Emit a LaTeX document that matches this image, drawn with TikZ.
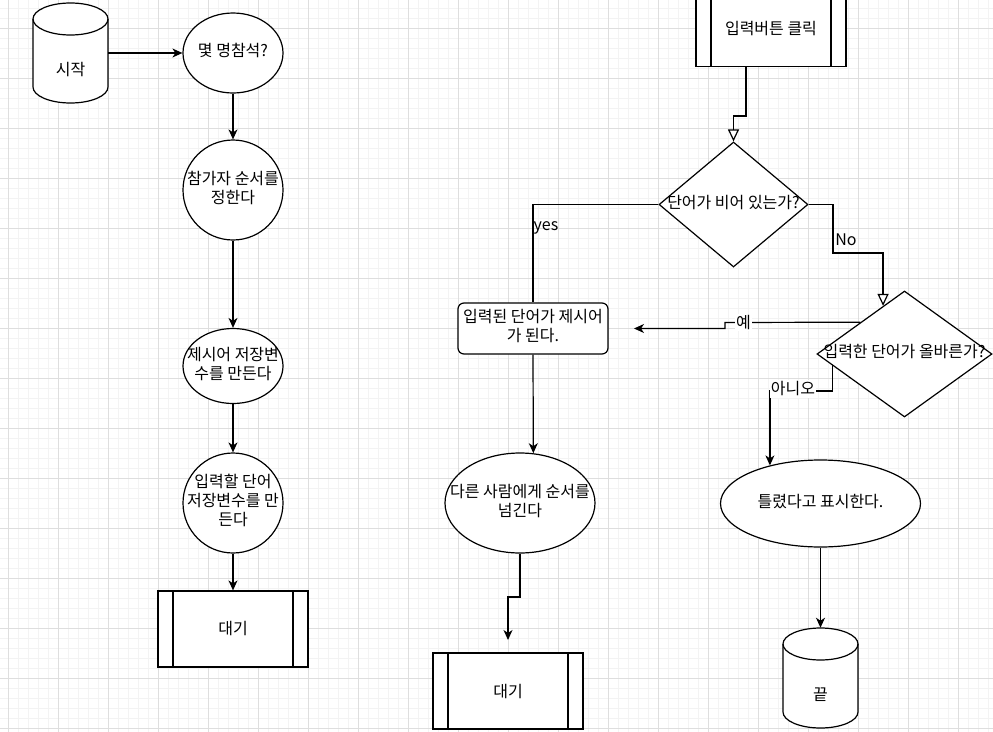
\documentclass[tikz,border=0pt]{standalone}
\usepackage{fontspec}
\setmainfont{Noto Sans CJK KR}
\usetikzlibrary{arrows.meta,shapes.geometric}
\newdimen\pxu \pxu=0.75pt
\newcommand\zt[1]{\makebox[0pt]{\begin{tabular}{@{}c@{}}#1\end{tabular}}}
\definecolor{gmin}{HTML}{F3F3F3}
\definecolor{gmaj}{HTML}{DEDEDE}
\begin{document}
\begin{tikzpicture}[x=0.75pt,y=-0.75pt,
  txt/.style={font=\fontsize{12}{14.2}\selectfont, inner sep=0pt},
  shp/.style={txt, draw, line width=0.9pt, fill=white},
  ell/.style={shp, ellipse},
  dia/.style={shp, diamond},
  proc/.style={shp, rectangle, minimum width=150\pxu, minimum height=76\pxu,
    path picture={\draw[line width=0.9pt]
      ([xshift=15\pxu]path picture bounding box.north west) -- ([xshift=15\pxu]path picture bounding box.south west)
      ([xshift=-15\pxu]path picture bounding box.north east) -- ([xshift=-15\pxu]path picture bounding box.south east);}},
  cyl/.style={txt, minimum width=75\pxu, minimum height=100\pxu, text height=46\pxu, text depth=2\pxu},
  cylbody/.style={fill=white, draw, line width=0.9pt},
  lbl/.style={txt, inner sep=1pt},
  arr/.style={line width=0.9pt, -{Stealth[length=7.5pt, width=6.75pt, inset=2.25pt]}},
  oarr/.style={line width=0.9pt, -{Triangle[fill=white, length=9pt, width=8.25pt]}},
  conn/.style={line width=0.9pt}
]
\useasboundingbox (0,0) rectangle (993,732);
\fill[white] (0,0) rectangle (993,732);
% grid
\foreach \x in {8,18,...,988} \draw[gmin, line width=0.6pt] (\x,0) -- (\x,732);
\foreach \y in {8,18,...,728} \draw[gmin, line width=0.6pt] (0,\y) -- (993,\y);
\foreach \x in {8,58,...,958} \draw[gmaj, line width=0.6pt] (\x,0) -- (\x,732);
\foreach \y in {28,78,...,728} \draw[gmaj, line width=0.6pt] (0,\y) -- (993,\y);

% cylinders
\filldraw[cylbody] (33,19) -- (33,87) arc[start angle=180,end angle=360,x radius=28.125pt,y radius=12pt]
  -- (108,19) arc[start angle=0,end angle=180,x radius=28.125pt,y radius=12pt] -- cycle;
\draw[line width=0.9pt] (33,19) arc[start angle=180,end angle=360,x radius=28.125pt,y radius=12pt];
\filldraw[cylbody] (783,644) -- (783,712) arc[start angle=180,end angle=360,x radius=28.125pt,y radius=12pt]
  -- (858,644) arc[start angle=0,end angle=180,x radius=28.125pt,y radius=12pt] -- cycle;
\draw[line width=0.9pt] (783,644) arc[start angle=180,end angle=360,x radius=28.125pt,y radius=12pt];

% nodes
\node[cyl] (start) at (70.5,53) {시작};
\node[ell, minimum width=100\pxu, minimum height=80\pxu] (q1) at (233,53) {\zt{몇 명참석?}};
\node[ell, minimum width=100\pxu, minimum height=100\pxu] (c1) at (233,190) {\zt{참가자 순서를\\정한다}};
\node[ell, minimum width=100\pxu, minimum height=75\pxu] (c2) at (233,366) {\zt{제시어 저장변\\수를 만든다}};
\node[ell, minimum width=100\pxu, minimum height=100\pxu] (c3) at (233,503) {\zt{입력할 단어\\저장변수를 만\\든다}};
\node[proc] (w1) at (233,629) {대기};
\node[proc] (btn) at (771,28.5) {입력버튼 클릭};
\node[dia, minimum width=149\pxu, minimum height=125\pxu] (d1) at (733.5,204.5) {\zt{단어가 비어 있는가?}};
\node[shp, rounded corners=6\pxu, minimum width=150\pxu, minimum height=51\pxu] (rr) at (533,328.5) {\zt{입력된 단어가 제시어\\가 된다.}};
\node[dia, minimum width=175\pxu, minimum height=126\pxu] (d2) at (904.5,354) {\zt{입력한 단어가 올바른가?}};
\node[ell, minimum width=150\pxu, minimum height=100\pxu] (e1) at (520,503) {\zt{다른 사람에게 순서를\\넘긴다}};
\node[ell, minimum width=200\pxu, minimum height=87\pxu] (e2) at (820.5,503.5) {\zt{틀렸다고 표시한다.}};
\node[proc] (w2) at (508,691) {대기};
\node[cyl] (endc) at (820.5,678) {끝};

\coordinate (yesend) at (634,328.5);
\coordinate (w2end) at (508,640);

% connectors
\draw[arr] (start) -- (q1);
\draw[arr] (q1) -- (c1);
\draw[arr] (c1) -- (c2);
\draw[arr] (c2) -- (c3);
\draw[arr] (c3) -- (w1);
\draw[oarr] ([xshift=-25\pxu]btn.south) |- (740,116) -| (d1.north);
\draw[conn] (d1.west) -| (rr.north);
\draw[oarr] (d1.east) -| (833,253) -| (d2.114);
\draw[arr] (d2.north west) -- (725,322.5) |- (yesend);
\draw[arr] (d2.189) |- (800,391) -| (e2.143);
\draw[arr] (rr.south) -- (e1.75);
\draw[arr] (e1.south) |- (514,597) -| (w2end);
\draw[arr] (e2) -- (endc);

% labels
\node[lbl] (yes) at (546,228) {yes};
\node[lbl] (no) at (846,240) {No};
\node[lbl, fill=white] (ye) at (743.5,322.5) {예};
\node[lbl, fill=white] (ani) at (793,389) {아니오};
\end{tikzpicture}
\end{document}
